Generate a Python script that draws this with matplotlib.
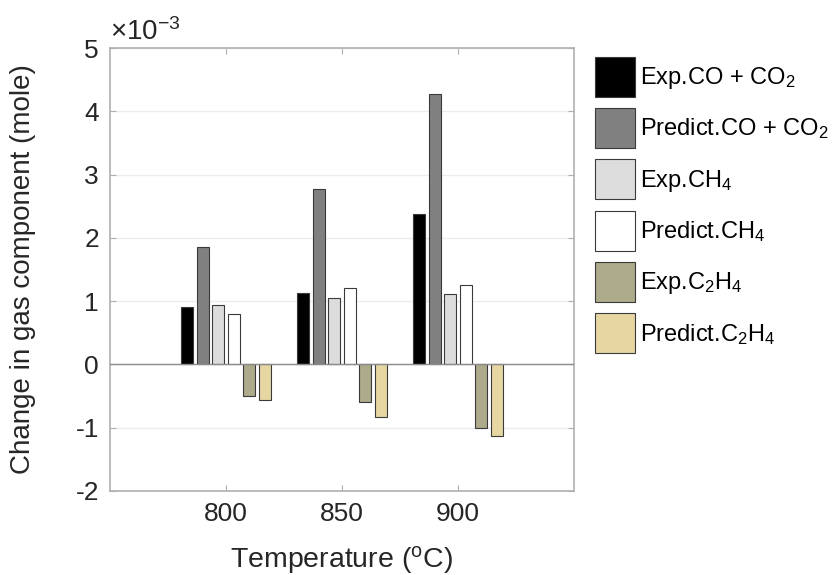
import matplotlib
matplotlib.use("Agg")
import matplotlib.pyplot as plt
import numpy as np

plt.rcParams['font.family'] = ['Liberation Sans', 'DejaVu Sans']
plt.rcParams['mathtext.fontset'] = 'custom'
plt.rcParams['mathtext.rm'] = 'Liberation Sans'
plt.rcParams['mathtext.it'] = 'Liberation Sans'
plt.rcParams['axes.unicode_minus'] = False

temperatures = [800, 850, 900]
series_labels = [r'Exp.CO + CO$\mathregular{_2}$',
                 r'Predict.CO + CO$\mathregular{_2}$',
                 r'Exp.CH$\mathregular{_4}$',
                 r'Predict.CH$\mathregular{_4}$',
                 r'Exp.C$\mathregular{_2}$H$\mathregular{_4}$',
                 r'Predict.C$\mathregular{_2}$H$\mathregular{_4}$']
exp_co_co2 = [0.90, 1.13, 2.38]
pred_co_co2 = [1.85, 2.77, 4.28]
exp_ch4 = [0.935, 1.055, 1.12]
pred_ch4 = [0.80, 1.21, 1.26]
exp_c2h4 = [-0.50, -0.59, -1.00]
pred_c2h4 = [-0.57, -0.83, -1.13]
series = [exp_co_co2, pred_co_co2, exp_ch4, pred_ch4, exp_c2h4, pred_c2h4]
colors = ['#000000', '#808080', '#dcdcdc', '#ffffff', '#aeaa8c', '#e5d6a2']

fig = plt.figure(figsize=(8.39, 5.75), dpi=100)
ax = fig.add_axes([0.1311, 0.1461, 0.5530, 0.7704])

x = np.array(temperatures, dtype=float)
n = len(series)
group_w = 40.0
slot = group_w / n
bw = slot * 0.78
for i, (vals, c, lab) in enumerate(zip(series, colors, series_labels)):
    off = (i - (n - 1) / 2) * slot
    ax.bar(x + off, vals, width=bw, color=c, edgecolor='#3a3a3a',
           linewidth=0.8, label=lab, zorder=3)

ax.axhline(0, color='#8c8c8c', linewidth=1.0, zorder=4)
ax.set_xlim(750, 950)
ax.set_ylim(-2, 5)
ax.set_xticks(temperatures)
ax.set_yticks(range(-2, 6))
ax.tick_params(axis='both', direction='in', length=4, color='#b0b0b0',
               labelsize=19, labelcolor='#262626', top=True, right=True, pad=8)
for s in ax.spines.values():
    s.set_color('#b0b0b0')
    s.set_linewidth(1.2)
ax.yaxis.grid(True, color='#ececec', linewidth=1.0, zorder=0)
ax.set_axisbelow(True)

ax.set_ylabel('Change in gas component (mole)', fontsize=20, color='#262626', labelpad=28)
ax.set_xlabel(r'Temperature ($\mathregular{^oC}$)', fontsize=20.5, color='#262626', labelpad=13)
ax.text(0.0, 1.005, r'$\mathregular{\times10^{-3}}$', transform=ax.transAxes,
        fontsize=20, color='#262626', ha='left', va='bottom')

handles, labels = ax.get_legend_handles_labels()
fig.legend(handles, labels, loc='upper left', bbox_to_anchor=(0.698, 0.918),
           frameon=False, fontsize=17, handlelength=1.7, handleheight=2.23,
           labelspacing=0.48, handletextpad=0.2, borderaxespad=0)

fig.savefig('out.png', dpi=100)
